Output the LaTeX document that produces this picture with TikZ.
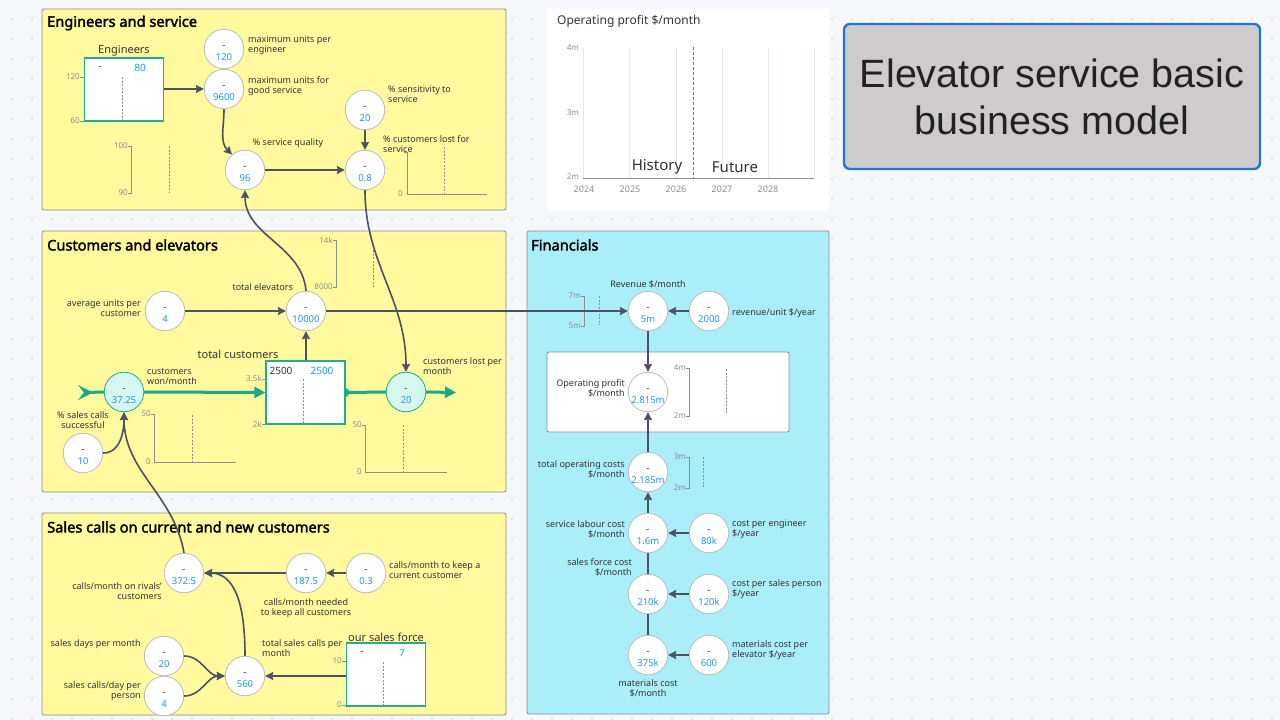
\documentclass[tikz,border=0pt]{standalone}
\usepackage{fontspec}
\setmainfont{Noto Sans}[AutoFakeBold=2.2]
\newfontfamily\titlefont{Liberation Sans}
\usetikzlibrary{arrows.meta}
\definecolor{bgc}{HTML}{F7F8FB}
\definecolor{dotc}{HTML}{C9CDD8}
\definecolor{yelc}{HTML}{FFFA9E}
\definecolor{cyac}{HTML}{AAEEFA}
\definecolor{panelb}{HTML}{8C8C8C}
\definecolor{circb}{HTML}{BDBDBD}
\definecolor{stockb}{HTML}{22AD90}
\definecolor{pipec}{HTML}{19A98B}
\definecolor{valvef}{HTML}{D6F7F0}
\definecolor{arrowc}{HTML}{4B5263}
\definecolor{txt}{HTML}{333333}
\definecolor{valc}{HTML}{2196F3}
\definecolor{axc}{HTML}{8E8E8E}
\definecolor{gridc}{HTML}{E2E7F0}
\definecolor{titleb}{HTML}{1E78D6}
\definecolor{titlef}{HTML}{CDCBCB}
\definecolor{titlet}{HTML}{222222}
\tikzset{
  panel/.style={draw=panelb, line width=0.8pt, rounded corners=2pt},
  ptitle/.style={font=\bfseries\fontsize{14.6}{16}\selectfont, inner sep=0pt, text=black, anchor=west},
  var/.style={circle, draw=circb, fill=white, line width=0.8pt, minimum size=39.5pt, inner sep=0pt},
  valve/.style={var, fill=valvef, draw=stockb},
  vtext/.style={inner sep=0pt, align=center, font=\fontsize{9.5}{12.5}\selectfont},
  lab/.style={inner sep=0pt, text=txt, font=\fontsize{9}{10}\selectfont},
  axl/.style={inner sep=0pt, text=axc, font=\fontsize{8}{9}\selectfont},
  axline/.style={draw=axc, line width=0.6pt},
  dline/.style={draw=axc, line width=0.6pt, dash pattern=on 2pt off 1.5pt},
  arr/.style={draw=arrowc, line width=1.6pt, -{Stealth[length=8pt,width=8pt,inset=1pt]}},
  link/.style={draw=arrowc, line width=1.6pt},
  pipe/.style={draw=pipec, line width=3pt},
  stock/.style={rectangle, draw=stockb, fill=white, line width=1.3pt, minimum width=79pt, minimum height=63pt, inner sep=0pt},
  stxt/.style={inner sep=0pt, font=\fontsize{10}{12}\selectfont},
  stitle/.style={inner sep=0pt, text=txt, font=\fontsize{11}{13}\selectfont},
}
\newcommand\mkvar[5][var]{\node[#1] (#2) at (#3,#4) {};
  \node[vtext] (#2t) at ([yshift=-4pt]#2.center) {\textcolor{txt}{-}\\\textcolor{valc}{#5}};}
\begin{document}
\begin{tikzpicture}[x=1pt,y=-1pt]
\fill[bgc] (0,0) rectangle (1280,720);
\useasboundingbox (0,0) rectangle (1280,720);
\foreach \i in {0,...,63}{\foreach \j in {0,...,35}{\fill[dotc] ({12+20*\i},{19+20*\j}) circle (0.9pt);}}
% panels
\draw[panel, fill=yelc] (42,9) rectangle (506,210);
\draw[panel, fill=yelc] (42,231) rectangle (506,492);
\draw[panel, fill=yelc] (42,513) rectangle (506,715);
\draw[panel, fill=cyac] (527,231) rectangle (829,714);
\node[ptitle] (t1) at (47,23) {Engineers and service};
\node[ptitle] (t2) at (47,245) {Customers and elevators};
\node[ptitle] (t3) at (47,527) {Sales calls on current and new customers};
\node[ptitle] (t4) at (531,245) {Financials};
% chart panel
\fill[white] (547,9) rectangle (829,210);
\node[anchor=west, inner sep=0pt, font=\fontsize{12}{14}\selectfont, text=txt] (ctitle) at (557,21) {Operating profit \$/month};
\foreach \x in {583,629,676,722,768,814} \draw[gridc, line width=0.7pt] (\x,48) -- (\x,178);
\draw[axline] (583,178) -- (814,178);
\node[axl, anchor=east] (y4) at (579,48) {4m};
\node[axl, anchor=east] (y3) at (579,113) {3m};
\node[axl, anchor=east] (y2) at (579,177) {2m};
\node[axl, font=\fontsize{9}{10}\selectfont] (yr1) at (584,189) {2024};
\node[axl, font=\fontsize{9}{10}\selectfont] (yr2) at (630,189) {2025};
\node[axl, font=\fontsize{9}{10}\selectfont] (yr3) at (676,189) {2026};
\node[axl, font=\fontsize{9}{10}\selectfont] (yr4) at (722,189) {2027};
\node[axl, font=\fontsize{9}{10}\selectfont] (yr5) at (768,189) {2028};
\draw[draw=arrowc!80, line width=0.9pt, dash pattern=on 3pt off 2pt] (693,47) -- (693,178);
\node[inner sep=0pt, font=\fontsize{15}{17}\selectfont, text=txt] (hist) at (657,167) {History};
\node[inner sep=0pt, font=\fontsize{15}{17}\selectfont, text=txt] (fut) at (735,167) {Future};
% title
\node[draw=titleb, line width=2.4pt, fill=titlef, rounded corners=6pt, minimum width=416pt, minimum height=145pt, align=center, font=\titlefont\fontsize{39.5}{47}\selectfont, text=titlet] (title) at (1052,96.5) {Elevator service basic\\business model};
% ---------------- Engineers and service
\node[stitle] (engt) at (124,51) {Engineers};
\node[stock] (eng) at (124,89.5) {};
\node[stxt, text=txt] (engd) at (100,68) {-};
\node[stxt, text=valc] (engv) at (140,68) {80};
\draw[dline] (122,77) -- (122,121);
\node[axl, anchor=east] (ea1) at (80,77) {120};
\node[axl, anchor=east] (ea2) at (80,121) {60};
\draw[axline] (80,77) -- (84,77) (80,121) -- (84,121);
\mkvar{c120}{224}{49}{120}
\mkvar{c9600}{224}{89}{9600}
\mkvar{c20s}{365}{110}{20}
\mkvar{c96}{245}{170}{96}
\mkvar{c08}{365}{170}{0.8}
\node[lab, anchor=west, align=left] (l120) at (248,45) {maximum units per\\engineer};
\node[lab, anchor=west, align=left] (l9600) at (248,86) {maximum units for\\good service};
\node[lab, anchor=west, align=left] (lsens) at (388,94.5) {\% sensitivity to\\service};
\node[lab] (lsq) at (288,143) {\% service quality};
\node[lab, anchor=west, align=left] (llost) at (383,144.5) {\% customers lost for\\service};
\node[axl, anchor=east] (ma1) at (128,146) {100};
\node[axl, anchor=east] (ma2) at (128,193) {90};
\draw[axline] (128,146) -- (131,146) -- (131,193) -- (128,193);
\draw[dline] (169,146) -- (169,193);
\node[axl, anchor=east] (mb1) at (403,194) {0};
\draw[axline] (404,152) -- (407,152) -- (407,194) -- (487,194);
\draw[dline] (444,147) -- (444,194);
% ---------------- Customers and elevators
\mkvar{c4}{165}{311}{4}
\mkvar{c10000}{306}{311}{10000}
\node[lab, anchor=east, align=right] (l4) at (141,308) {average units per\\customer};
\node[lab, anchor=east] (lte) at (293,287) {total elevators};
\node[axl, anchor=east] (mc1) at (333,240) {14k};
\node[axl, anchor=east] (mc2) at (333,287) {8000};
\draw[axline] (333,240) -- (336,240) -- (336,287) -- (333,287);
\draw[dline] (373,250) -- (373,287);
\node[stitle] (ltc) at (238,354) {total customers};
\node[stock] (tc) at (305.5,392.5) {};
\node[stxt, text=txt] (tcd) at (281,371) {2500};
\node[stxt, text=valc] (tcv) at (322,371) {2500};
\draw[dline] (303,379) -- (303,424);
\node[axl, anchor=east] (td1) at (262,379) {3.5k};
\node[axl, anchor=east] (td2) at (262,424) {2k};
\draw[axline] (262,379) -- (266,379) (262,424) -- (266,424);
\mkvar[valve]{won}{124}{392}{37.25}
\mkvar[valve]{lost}{406}{392}{20}
\node[lab, anchor=west, align=left] (lwon) at (147,377) {customers\\won/month};
\node[lab, anchor=west, align=left] (llost2) at (423,366.5) {customers lost per\\month};
\mkvar{c10}{83}{453}{10}
\node[lab, align=center] (l10) at (83,420) {\% sales calls\\successful};
\node[axl, anchor=east] (me1) at (151,414) {50};
\node[axl, anchor=east] (me2) at (151,462) {0};
\draw[axline] (151,414) -- (154,414) -- (154,462) -- (236,462);
\draw[dline] (192,415) -- (192,462);
\node[axl, anchor=east] (mf1) at (362,425) {50};
\node[axl, anchor=east] (mf2) at (362,472) {0};
\draw[axline] (362,425) -- (365,425) -- (365,472) -- (447,472);
\draw[dline] (403,425) -- (403,472);
% pipes
\fill[pipec] (78,385) -- (93,392.5) -- (78,400) -- (84,392.5) -- cycle;
\coordinate (src) at (86,392.5);
\coordinate (sink) at (456,392.5);
\draw[pipe] (src) -- (won.west);
\draw[pipe, -{Triangle[length=11pt,width=11pt]}] (won.east) -- (tc.west);
\fill[pipec] (345,387) -- (351,392.5) -- (345,398) -- cycle;
\draw[pipe] (tc.east) -- (lost.west);
\draw[pipe, -{Triangle[length=11pt,width=11pt]}] (lost.east) -- (sink);
% ---------------- Sales calls
\mkvar{c3725}{184}{573}{372.5}
\mkvar{c1875}{306}{573}{187.5}
\mkvar{c03}{366}{573}{0.3}
\mkvar{c560}{245}{676}{560}
\mkvar{cdays}{164}{656}{20}
\mkvar{ccalls}{164}{696}{4}
\node[lab, anchor=east, align=right] (l3725) at (162,591) {calls/month on rivals'\\customers};
\node[lab, align=center] (l1875) at (306,608) {calls/month needed\\to keep all customers};
\node[lab, anchor=west, align=left] (l03) at (389,570) {calls/month to keep a\\current customer};
\node[lab, anchor=west, align=left] (l560) at (262,648.5) {total sales calls per\\month};
\node[lab, anchor=east] (ldays) at (141,644) {sales days per month};
\node[lab, anchor=east, align=right] (lcalls) at (141,691) {sales calls/day per\\person};
\node[stitle] (sft) at (386,637) {our sales force};
\node[stock] (sf) at (386,674.5) {};
\node[stxt, text=txt] (sfd) at (362,653) {-};
\node[stxt, text=valc] (sfv) at (402,653) {7};
\draw[dline] (383,662) -- (383,706);
\node[axl, anchor=east] (sa1) at (342,661) {10};
\node[axl, anchor=east] (sa2) at (342,705) {0};
\draw[axline] (342,661) -- (346,661) (342,705) -- (346,705);
% ---------------- Financials
\mkvar{c5m}{648}{311}{5m}
\mkvar{c2000}{709}{311}{2000}
\node[lab] (lrev) at (648,284) {Revenue \$/month};
\node[lab, anchor=west] (lrpu) at (732,313) {revenue/unit \$/year};
\node[axl, anchor=east] (fa1) at (581,296) {7m};
\node[axl, anchor=east] (fa2) at (581,326) {5m};
\draw[axline] (581,296) -- (584,296) -- (584,326) -- (581,326);
\draw[dline] (599,296) -- (599,325);
\node[draw=panelb, fill=white, line width=0.8pt, rounded corners=2pt, minimum width=242pt, minimum height=80pt, inner sep=0pt] (opbox) at (668,392) {};
\mkvar{c2815}{648}{392}{2.815m}
\node[lab, anchor=east, align=right] (lop) at (625,388) {Operating profit\\\$/month};
\node[axl, anchor=east] (fb1) at (686,368) {4m};
\node[axl, anchor=east] (fb2) at (686,416) {2m};
\draw[axline] (686,368) -- (689,368) -- (689,416) -- (686,416);
\draw[dline] (726,369) -- (726,414);
\mkvar{c2185}{648}{472}{2.185m}
\node[lab, anchor=east, align=right] (ltoc) at (625,469) {total operating costs\\\$/month};
\node[axl, anchor=east] (fc1) at (686,457) {3m};
\node[axl, anchor=east] (fc2) at (686,488) {2m};
\draw[axline] (686,457) -- (689,457) -- (689,488) -- (686,488);
\draw[dline] (703,457) -- (703,488);
\mkvar{c16}{648}{533}{1.6m}
\mkvar{c80}{709}{533}{80k}
\mkvar{c210}{648}{594}{210k}
\mkvar{c120k}{709}{594}{120k}
\mkvar{c375}{648}{655}{375k}
\mkvar{c600}{709}{655}{600}
\node[lab, anchor=east, align=right] (lslc) at (625,529) {service labour cost\\\$/month};
\node[lab, anchor=west, align=left] (lcpe) at (732,529) {cost per engineer\\\$/year};
\node[lab, anchor=east, align=right] (lsfc) at (632,567.5) {sales force cost\\\$/month};
\node[lab, anchor=west, align=left] (lcps) at (732,589.5) {cost per sales person\\\$/year};
\node[lab, align=center] (lmc) at (648,688) {materials cost\\\$/month};
\node[lab, anchor=west, align=left] (lmcp) at (732,650) {materials cost per\\elevator \$/year};
% ---------------- connectors
\draw[arr] (eng.east |- c9600) -- (c9600);
\draw[arr] (c9600.south) to[out=-90, in=135] (c96.130);
\draw[arr] (c96) -- (c08);
\draw[arr] (c20s) -- (c08);
\draw[arr] (c10000.north) to[out=95, in=-90] (c96.south);
\draw[arr] (c08.south) to[out=-90, in=90] (lost.north);
\draw[arr] (c4) -- (c10000);
\draw[arr] (c10000) -- (c5m);
\draw[arr] (tc.north -| c10000) -- (c10000);
\draw[arr] (c10.east) to[out=0, in=-90] (won.south);
\draw[arr] (c3725.north) to[out=100, in=-90] (won.south);
\draw[arr] (c03) -- (c1875);
\draw[arr] (c1875) -- (c3725);
\draw[arr] (c560.north) to[out=90, in=0] (c3725.east);
\draw[arr] (cdays.east) to[out=0, in=180] (c560.west);
\draw[arr] (ccalls.east) to[out=0, in=180] (c560.west);
\draw[arr] (sf.west |- c560) -- (c560);
\draw[arr] (c2000) -- (c5m);
\draw[arr] (c5m) -- (c2815);
\draw[arr] (c2185) -- (c2815);
\draw[arr] (c16) -- (c2185);
\draw[link] (c210) -- (c16);
\draw[link] (c375) -- (c210);
\draw[arr] (c80) -- (c16);
\draw[arr] (c120k) -- (c210);
\draw[arr] (c600) -- (c375);
\end{tikzpicture}
\end{document}
